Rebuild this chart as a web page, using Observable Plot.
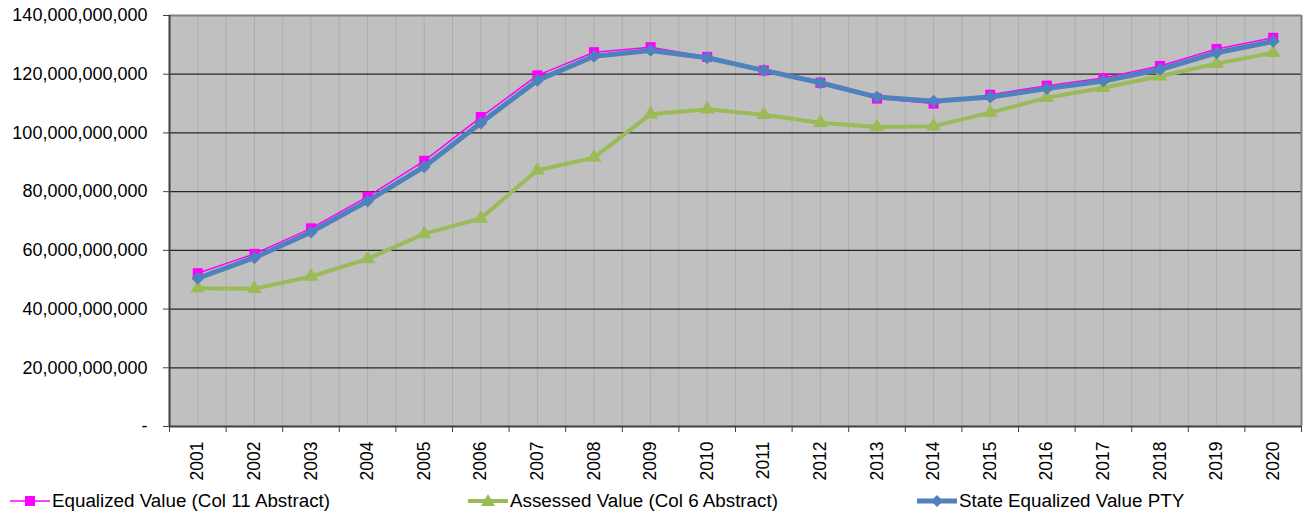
<!DOCTYPE html>
<html>
<head>
<meta charset="utf-8">
<script src="https://cdn.jsdelivr.net/npm/d3@7"></script>
<script src="https://cdn.jsdelivr.net/npm/@observablehq/plot@0.6"></script>
<style>
  html, body { margin: 0; padding: 0; background: #fff; }
  #wrap { position: relative; width: 1311px; height: 517px; font-family: "Liberation Sans", Arial, sans-serif; }
  .leg { position: absolute; top: 488px; height: 26px; display: flex; align-items: center; font-size: 18.8px; color: #000; white-space: nowrap; }
  .leg svg { display: block; margin-right: 2px; }
</style>
</head>
<body>
<div id="wrap"><div id="chart"></div></div>
<script>
const years = [2001, 2002, 2003, 2004, 2005, 2006, 2007, 2008, 2009, 2010,
               2011, 2012, 2013, 2014, 2015, 2016, 2017, 2018, 2019, 2020];
// values in billions
const equalizedValue = [52.2, 58.8, 67.5, 78.3, 90.5, 105.4, 119.6, 127.5, 129.2, 125.9,
                        121.3, 117.1, 111.7, 110.0, 113.0, 116.1, 118.7, 122.8, 128.6, 132.4];
const assessedValue  = [47.1, 46.9, 51.1, 57.1, 65.6, 70.9, 87.3, 91.6, 106.4, 108.1,
                        106.2, 103.5, 102.0, 102.3, 106.9, 112.0, 115.4, 119.3, 123.6, 127.3];
const stateEqualized = [50.5, 57.5, 66.2, 76.8, 88.5, 103.4, 117.9, 126.1, 128.1, 125.6,
                        121.3, 117.1, 112.2, 110.8, 112.2, 115.1, 117.7, 121.6, 127.3, 131.2];
const seriesNames = ["Equalized Value (Col 11 Abstract)", "Assessed Value (Col 6 Abstract)", "State Equalized Value PTY"];
const yTicks = [0, 20e9, 40e9, 60e9, 80e9, 100e9, 120e9, 140e9];

const eqData = years.map((yr, i) => ({year: yr, value: equalizedValue[i] * 1e9}));
const asData = years.map((yr, i) => ({year: yr, value: assessedValue[i] * 1e9}));
const stData = years.map((yr, i) => ({year: yr, value: stateEqualized[i] * 1e9}));

const boundaries = [years[0] - 0.5, ...years.map(y => y + 0.5)];
const vGrid = [...years, ...boundaries.slice(1, -1)];
const fmt = d3.format(",");

const PINK = "#FF00FF", GREEN = "#9BBB59", BLUE = "#4F81BD";

const chart = Plot.plot({
  width: 1311,
  height: 488,
  marginTop: 15,
  marginBottom: 62,
  marginLeft: 169,
  marginRight: 10,
  style: {fontFamily: "'Liberation Sans', Arial, sans-serif", background: "#fff", color: "#000", overflow: "visible"},
  x: {type: "linear", domain: [years[0] - 0.5, years[years.length - 1] + 0.5]},
  y: {domain: [0, 140e9]},
  marks: [
    Plot.frame({fill: "#C0C0C0", stroke: null}),
    Plot.ruleX(vGrid, {stroke: "#ADADAD", strokeWidth: 1}),
    Plot.ruleY(yTicks.slice(1, -1), {stroke: "#262626", strokeWidth: 1.2}),
    Plot.ruleY([yTicks[yTicks.length - 1]], {stroke: "#808080", strokeWidth: 2}),
    Plot.ruleX([boundaries[boundaries.length - 1]], {stroke: "#808080", strokeWidth: 2}),
    Plot.ruleX([boundaries[0]], {stroke: "#404040", strokeWidth: 2}),
    Plot.ruleY([0], {stroke: "#404040", strokeWidth: 2}),
    Plot.axisY({ticks: yTicks, tickFormat: d => d === 0 ? "-" : fmt(d), tickSize: 6, tickPadding: 16, fontSize: 18, stroke: "#404040", label: null}),
    Plot.axisX({ticks: boundaries, tickFormat: () => "", tickSize: 6, stroke: "#404040", label: null}),
    Plot.axisX({ticks: years, tickFormat: d => String(d), tickSize: 0, tickPadding: 15, tickRotate: -90, fontSize: 17.5, label: null}),
    Plot.line(asData, {x: "year", y: "value", stroke: GREEN, strokeWidth: 4, curve: "linear"}),
    Plot.dot(asData, {x: "year", y: "value", symbol: "triangle", r: 5.5, fill: GREEN, stroke: null}),
    Plot.line(eqData, {x: "year", y: "value", stroke: PINK, strokeWidth: 1.5}),
    Plot.dot(eqData, {x: "year", y: "value", symbol: "square", r: 5.7, fill: PINK, stroke: null}),
    Plot.line(stData, {x: "year", y: "value", stroke: BLUE, strokeWidth: 5}),
    Plot.dot(stData, {x: "year", y: "value", symbol: "diamond2", r: 5.8, fill: BLUE, stroke: null})
  ]
});
document.getElementById("chart").appendChild(chart);

// legend
const legendItems = [
  {name: seriesNames[0], color: PINK, sw: 1.5, sym: "square", left: 10},
  {name: seriesNames[1], color: GREEN, sw: 4, sym: "triangle", left: 468},
  {name: seriesNames[2], color: BLUE, sw: 5, sym: "diamond", left: 917}
];
const wrap = document.getElementById("wrap");
for (const it of legendItems) {
  const div = document.createElement("div");
  div.className = "leg";
  div.style.left = it.left + "px";
  let marker;
  if (it.sym === "square") marker = `<rect x="15" y="8" width="10" height="10" fill="${it.color}"/>`;
  else if (it.sym === "triangle") marker = `<path d="M20,6 L27,18 L13,18 Z" fill="${it.color}"/>`;
  else marker = `<path d="M20,7 L26,13 L20,19 L14,13 Z" fill="${it.color}"/>`;
  div.innerHTML = `<svg width="40" height="26"><line x1="0" x2="40" y1="13" y2="13" stroke="${it.color}" stroke-width="${it.sw}"/>${marker}</svg><span>${it.name}</span>`;
  wrap.appendChild(div);
}
</script>
</body>
</html>
